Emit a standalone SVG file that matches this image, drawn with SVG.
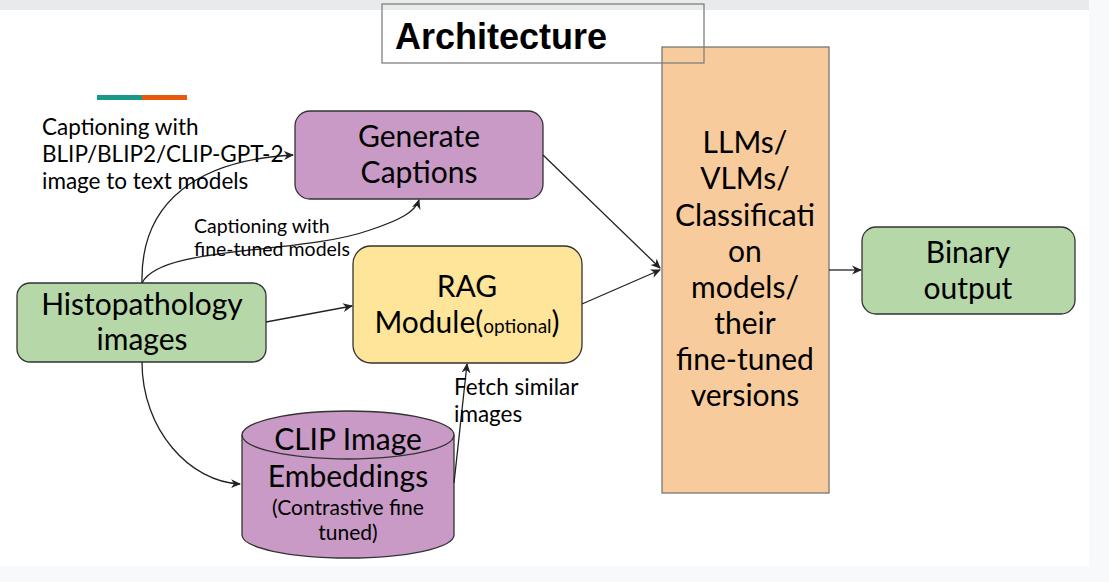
<svg xmlns="http://www.w3.org/2000/svg" width="1109" height="582" viewBox="0 0 1109 582">
<defs>
<style>
text{font-family:Lato,"Open Sans","Liberation Sans",sans-serif;fill:#000}
.n{font-size:30px;text-anchor:middle}
.lbl{font-size:22.5px}
.sm{font-size:19.5px}
.box{stroke:#333;stroke-width:1.3}
.c{fill:none;stroke:#222;stroke-width:1.3}
</style>
<marker id="ah" viewBox="0 0 10 10" refX="9" refY="5" markerWidth="10" markerHeight="10" markerUnits="userSpaceOnUse" orient="auto">
<path d="M0,0.5 L10,5 L0,9.5 L3,5 Z" fill="#222"/>
</marker>
</defs>
<rect x="0" y="0" width="1109" height="582" fill="#ffffff"/>
<rect x="0" y="0" width="1089" height="10" fill="#e8eaeb"/>
<rect x="1089" y="0" width="20" height="582" fill="#f8f9fa"/>
<rect x="0" y="566" width="1109" height="16" fill="#f8f9fa"/>
<rect x="97" y="95" width="45" height="5" fill="#1a9988"/>
<rect x="142" y="95" width="45" height="5" fill="#e8590c"/>

<g id="llm">
<rect x="662" y="47" width="167" height="446" fill="#f8cb9c" stroke="#777" stroke-width="1.3"/>
<text class="n" x="745" y="153">LLMs/</text>
<text class="n" x="745" y="189">VLMs/</text>
<text class="n" x="745" y="226">Classificati</text>
<text class="n" x="745" y="262">on</text>
<text class="n" x="745" y="298">models/</text>
<text class="n" x="745" y="334">their</text>
<text class="n" x="745" y="370">fine-tuned</text>
<text class="n" x="745" y="406">versions</text>
</g>

<g id="title">
<rect x="382" y="4" width="322" height="59" fill="none" stroke="#808080" stroke-width="1.3"/>
<text x="395" y="49" style="font-family:'Liberation Sans',Arial,sans-serif;font-size:36px;font-weight:bold">Architecture</text>
</g>

<g id="gen">
<rect class="box" x="295" y="111" width="248" height="88" rx="15" fill="#c99ac6"/>
<text class="n" x="419" y="147">Generate</text>
<text class="n" x="419" y="183">Captions</text>
</g>

<g id="rag">
<rect class="box" x="353" y="246" width="229" height="117" rx="18" fill="#ffe599"/>
<text class="n" x="467" y="297">RAG</text>
<text class="n" x="467" y="333">Module(<tspan style="font-size:19px">optional</tspan>)</text>
</g>

<g id="histo">
<rect class="box" x="17" y="283" width="249" height="79" rx="13" fill="#b6d7a8"/>
<text class="n" x="142" y="315">Histopathology</text>
<text class="n" x="142" y="350">images</text>
</g>

<g id="binary">
<rect class="box" x="862" y="227" width="213" height="87" rx="14" fill="#b6d7a8"/>
<text class="n" x="968" y="263">Binary</text>
<text class="n" x="968" y="299">output</text>
</g>

<g id="clip">
<path class="box" d="M242,435 A106,24 0 0 1 454,435 L454,535 A106,23 0 0 1 242,535 Z" fill="#c99ac6"/>
<path class="box" d="M242,435 A106,24 0 0 0 454,435" fill="none"/>
<text class="n" x="348" y="450">CLIP Image</text>
<text class="n" x="348" y="487">Embeddings</text>
<text x="348" y="515" style="font-size:21px;text-anchor:middle">(Contrastive fine</text>
<text x="348" y="540" style="font-size:21px;text-anchor:middle">tuned)</text>
</g>

<g id="connectors">
<path class="c" d="M142,283 C140,200 200,160 293,155" marker-end="url(#ah)"/>
<path class="c" d="M142,283 C160,245 300,255 370,230 C400,220 415,212 419,200" marker-end="url(#ah)"/>
<path class="c" d="M266,322 L352,306" marker-end="url(#ah)"/>
<path class="c" d="M543,155 L660,268" marker-end="url(#ah)"/>
<path class="c" d="M582,304 L660,270" marker-end="url(#ah)"/>
<path class="c" d="M454,483 L467,364" marker-end="url(#ah)"/>
<path class="c" d="M142,362 C142,430 190,482 240,484" marker-end="url(#ah)"/>
<path class="c" d="M829,270 L861,270" marker-end="url(#ah)"/>
</g>

<g id="labels">
<text class="lbl" x="42" y="135">Captioning with</text>
<text class="lbl" x="42" y="162">BLIP/BLIP2/CLIP-GPT-2</text>
<text class="lbl" x="42" y="189">image to text models</text>
<text class="sm" x="194" y="233">Captioning with</text>
<text class="sm" x="194" y="256">fine-tuned models</text>
<text class="lbl" x="454" y="395">Fetch similar</text>
<text class="lbl" x="454" y="422">images</text>
</g>
</svg>
